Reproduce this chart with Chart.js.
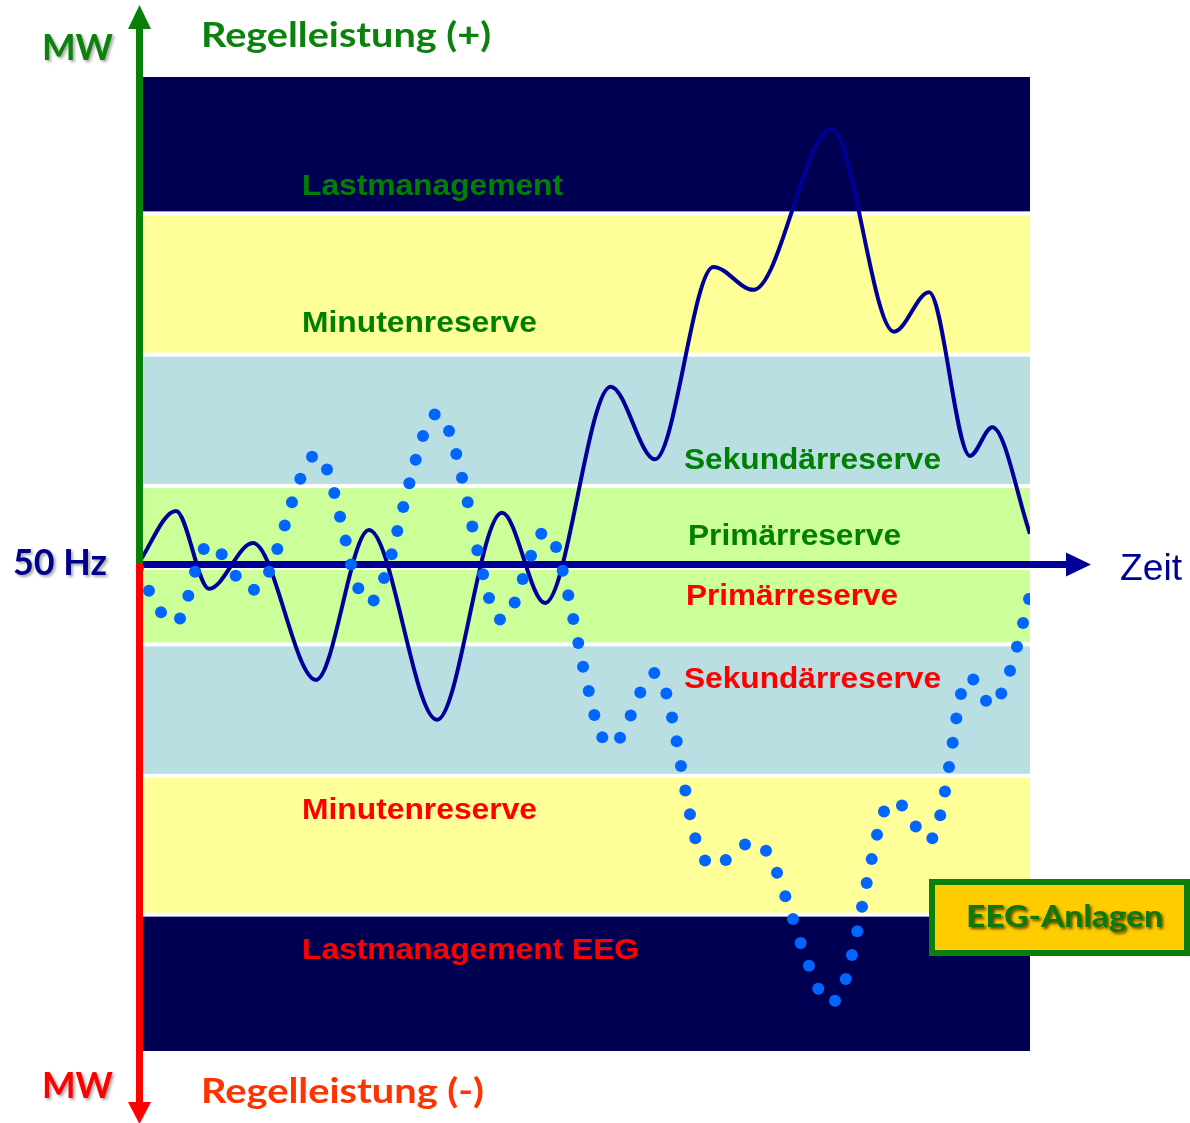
<!DOCTYPE html>
<html lang="de">
<head>
	<meta charset="UTF-8">
	<title>Regelleistung</title>
	<style>
		body { margin: 0; background: #fff; overflow: hidden; }
		canvas { display: block; }
	</style>
</head>
<body>
	<!-- Zeichenfläche -->
	<canvas id="chart" width="1190" height="1123"></canvas>

	<script src="https://cdn.jsdelivr.net/npm/chart.js"></script>

	<script>
		// ---------------- Daten ----------------
		// Zeit 0..100, Leistung -10..+10 (0 = 50 Hz)

		// Bänder (Regelleistungsarten), oben nach unten
		const bandTop    = [10, 7.2, 4.3, 1.6, 0, -1.65, -4.35, -7.2];
		const bandBottom = [7.2, 4.3, 1.6, 0, -1.65, -4.35, -7.2, -10];
		const bandColor  = ['#000052', '#ffff99', '#badfe2', '#ccff99', '#ccff99', '#badfe2', '#ffff99', '#000052'];

		// durchgezogene Kurve (Hoch- und Tiefpunkte)
		const lineTime = [0, 4.26, 7.96, 12.89, 19.96, 25.9, 33.52, 40.81, 45.63, 52.99, 57.96, 64.5,
			68.98, 77.77, 84.75, 88.68, 93.27, 95.77, 100];
		const lineMW = [0, 1.09, -0.51, 0.43, -2.38, 0.7, -3.2, 1.05, -0.8, 3.64, 2.15, 6.1,
			5.63, 8.93, 4.77, 5.58, 2.22, 2.81, 0.62];

		// gepunktete Kurve
		const dotTime = [0, 1.23, 2.58, 4.71, 5.64, 6.39, 7.37, 9.38, 10.95, 13, 14.69, 15.62, 16.45, 17.26,
			18.2, 19.51, 21.19, 22.01, 22.65, 23.28, 23.88, 24.7, 26.42, 27.58, 28.44, 29.07, 29.74, 30.42,
			31.13, 31.95, 33.26, 34.87, 35.68, 36.32, 36.96, 37.48, 38.04, 38.68, 39.35, 40.58, 42.23, 43.13,
			44.06, 45.21, 46.86, 47.61, 48.24, 48.8, 49.36, 49.89, 50.53, 51.16, 52.05, 54.04, 55.24, 56.31,
			57.88, 59.23, 59.87, 60.39, 60.87, 61.36, 61.88, 62.48, 63.57, 65.89, 68.05, 70.4, 71.64, 72.57,
			73.43, 74.29, 75.22, 76.27, 78.14, 79.34, 80.04, 80.64, 81.17, 81.69, 82.25, 82.85, 83.63, 85.65,
			87.19, 89.05, 89.94, 90.47, 90.92, 91.33, 91.74, 92.26, 93.64, 95.07, 96.78, 97.76, 98.54, 99.22,
			99.89];
		const dotMW = [-0.08, -0.55, -0.99, -1.12, -0.65, -0.16, 0.31, 0.2, -0.24, -0.53, -0.16, 0.31, 0.79, 1.27,
			1.75, 2.2, 1.94, 1.46, 0.97, 0.48, -0.01, -0.5, -0.75, -0.29, 0.2, 0.68, 1.17, 1.66,
			2.14, 2.63, 3.07, 2.73, 2.26, 1.77, 1.27, 0.77, 0.28, -0.21, -0.7, -1.14, -0.79, -0.31,
			0.17, 0.62, 0.35, -0.14, -0.64, -1.13, -1.62, -2.11, -2.61, -3.1, -3.56, -3.57, -3.11, -2.64,
			-2.24, -2.66, -3.15, -3.64, -4.15, -4.65, -5.14, -5.63, -6.09, -6.08, -5.76, -5.89, -6.34, -6.82,
			-7.29, -7.78, -8.25, -8.72, -8.97, -8.52, -8.03, -7.54, -7.04, -6.55, -6.06, -5.56, -5.08, -4.96,
			-5.39, -5.63, -5.16, -4.67, -4.17, -3.67, -3.17, -2.67, -2.37, -2.81, -2.66, -2.19, -1.7, -1.21,
			-0.72];

		// ---------------- Beschriftung ----------------
		const GREEN = '#0b820b';
		const DARKGREEN = '#008000';
		const RED = '#ff0000';
		const NAVY = '#00008a';
		const ARIAL = '"Liberation Sans", Arial, sans-serif';
		const CALIBRI = 'Lato, "Open Sans", sans-serif';

		const texts = [
			{ text: 'MW', x: 42, y: 60, w: 71, font: 'bold 37px ' + CALIBRI, color: GREEN, shadow: true },
			{ text: 'Regelleistung (+)', x: 201, y: 47, w: 290, font: 'bold 34px ' + CALIBRI, color: GREEN },
			{ text: 'Lastmanagement', x: 302, y: 195, w: 261, font: 'bold 30px ' + ARIAL, color: DARKGREEN },
			{ text: 'Minutenreserve', x: 302, y: 332, w: 235, font: 'bold 30px ' + ARIAL, color: DARKGREEN },
			{ text: 'Sekundärreserve', x: 684, y: 469, w: 257, font: 'bold 30px ' + ARIAL, color: DARKGREEN },
			{ text: 'Primärreserve', x: 688, y: 545, w: 213, font: 'bold 30px ' + ARIAL, color: DARKGREEN },
			{ text: 'Primärreserve', x: 686, y: 605, w: 212, font: 'bold 30px ' + ARIAL, color: RED },
			{ text: 'Sekundärreserve', x: 684, y: 688, w: 257, font: 'bold 30px ' + ARIAL, color: RED },
			{ text: 'Minutenreserve', x: 302, y: 819, w: 235, font: 'bold 30px ' + ARIAL, color: RED },
			{ text: 'Lastmanagement EEG', x: 302, y: 959, w: 337, font: 'bold 30px ' + ARIAL, color: RED },
			{ text: '50 Hz', x: 13, y: 575, w: 94, font: 'bold 36px ' + CALIBRI, color: NAVY, shadow: true },
			{ text: 'Zeit', x: 1120, y: 580, w: 62, font: '37px ' + ARIAL, color: '#000099' },
			{ text: 'MW', x: 42, y: 1098, w: 71, font: 'bold 37px ' + CALIBRI, color: RED, shadow: true },
			{ text: 'Regelleistung (-)', x: 201, y: 1103, w: 283, font: 'bold 34px ' + CALIBRI, color: '#ff3300' }
		];

		function drawText(ctx, t) {
			ctx.save();
			ctx.font = t.font;
			ctx.fillStyle = t.color;
			ctx.textBaseline = 'alphabetic';
			const sx = t.w / ctx.measureText(t.text).width;
			if (t.shadow) {
				ctx.shadowColor = t.shadowColor || 'rgba(0,0,0,0.35)';
				ctx.shadowOffsetX = 2;
				ctx.shadowOffsetY = 2;
				ctx.shadowBlur = 3;
			}
			ctx.translate(t.x, t.y);
			ctx.scale(sx, 1);
			ctx.fillText(t.text, 0, 0);
			ctx.restore();
		}

		// ---------------- Plugin: Bänder, Achsen, Texte ----------------
		const diagramPlugin = {
			id: 'diagram',
			beforeDatasetsDraw(chart) {
				const ctx = chart.ctx;
				const x = chart.scales.x, y = chart.scales.y;
				const left = x.getPixelForValue(0) + 5;
				const right = x.getPixelForValue(100);
				ctx.save();
				bandTop.forEach((top, i) => {
					let y1 = y.getPixelForValue(top);
					let y2 = y.getPixelForValue(bandBottom[i]);
					if (top < 10) y1 += 2;
					if (bandBottom[i] > -10) y2 -= 2;
					ctx.fillStyle = bandColor[i];
					ctx.fillRect(left, y1, right - left, y2 - y1);
				});
				// Zeitachse
				const y0 = y.getPixelForValue(0);
				const x0 = x.getPixelForValue(0);
				ctx.fillStyle = '#fff';
				ctx.fillRect(left, y0 + 3, right - left + 1, 3);
				ctx.strokeStyle = '#000099';
				ctx.lineWidth = 7;
				ctx.beginPath();
				ctx.moveTo(x0 - 2, y0 + 0.5);
				ctx.lineTo(x0 + 930, y0 + 0.5);
				ctx.stroke();
				ctx.fillStyle = '#000099';
				ctx.beginPath();
				ctx.moveTo(x0 + 928, y0 - 11.5);
				ctx.lineTo(x0 + 953, y0 + 0.5);
				ctx.lineTo(x0 + 928, y0 + 12.5);
				ctx.closePath();
				ctx.fill();
				ctx.restore();
			},
			afterDatasetsDraw(chart) {
				const ctx = chart.ctx;
				const x = chart.scales.x, y = chart.scales.y;
				const x0 = x.getPixelForValue(0) + 1.5;
				const y0 = y.getPixelForValue(0);
				ctx.save();
				// MW-Achse (+)
				ctx.fillStyle = '#0a800a';
				ctx.fillRect(x0 - 3.5, 26, 7, y0 - 26);
				ctx.beginPath();
				ctx.moveTo(x0 - 11.5, 29);
				ctx.lineTo(x0, 5);
				ctx.lineTo(x0 + 11.5, 29);
				ctx.closePath();
				ctx.fill();
				// MW-Achse (-)
				ctx.fillStyle = '#ff0000';
				ctx.fillRect(x0 - 3.5, y0, 7, 1105 - y0);
				ctx.beginPath();
				ctx.moveTo(x0 - 11.5, 1102);
				ctx.lineTo(x0, 1124);
				ctx.lineTo(x0 + 11.5, 1102);
				ctx.closePath();
				ctx.fill();

				// EEG-Anlagen
				ctx.fillStyle = '#ffcc00';
				ctx.fillRect(932, 882, 255, 71);
				ctx.strokeStyle = '#0a800a';
				ctx.lineWidth = 6;
				ctx.strokeRect(932, 882, 255, 71);
				ctx.restore();

				texts.forEach(t => drawText(ctx, t));
				drawText(ctx, { text: 'EEG-Anlagen', x: 966, y: 927, w: 197, font: 'bold 30px ' + CALIBRI,
					color: '#0a7a0a', shadow: true, shadowColor: 'rgba(40,30,0,0.75)' });
			}
		};

		// ---------------- Chart ----------------
		const config = {
			type: 'scatter',
			data: {
				datasets: [
					{
						label: 'Frequenzabweichung',
						data: dotTime.map((t, i) => ({ x: t, y: dotMW[i] })),
						showLine: false,
						pointRadius: 6,
						pointBorderWidth: 0,
						backgroundColor: '#0066ff',
						order: 0
					},
					{
						label: 'Regelleistung',
						data: lineTime.map((t, i) => ({ x: t, y: lineMW[i] })),
						showLine: true,
						pointRadius: 0,
						borderColor: '#000099',
						borderWidth: 4,
						cubicInterpolationMode: 'monotone',
						order: 1
					}
				]
			},
			options: {
				responsive: false,
				animation: false,
				devicePixelRatio: 1,
				layout: { padding: { left: 138, right: 160, top: 77, bottom: 72 } },
				scales: {
					x: { type: 'linear', min: 0, max: 100, display: false },
					y: { type: 'linear', min: -10, max: 10, display: false }
				},
				plugins: {
					legend: { display: false },
					tooltip: { enabled: false }
				}
			},
			plugins: [diagramPlugin]
		};

		const chart = new Chart(document.getElementById('chart'), config);
	</script>
</body>
</html>
